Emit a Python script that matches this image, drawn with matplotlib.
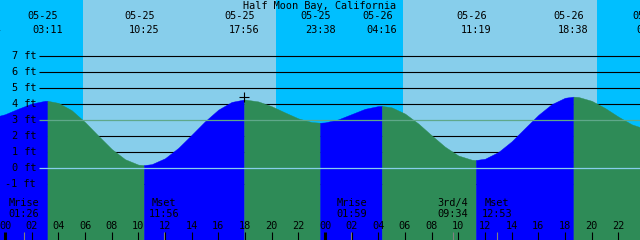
import numpy as np
import matplotlib
matplotlib.use('Agg')
import matplotlib.pyplot as plt

# 潮位 (ft), 05-25 00:00 からの毎時
hours = list(range(-1, 49))
level = [3.16, 3.38, 3.73, 4.05, 4.22, 4.09, 3.63, 2.89, 2.04, 1.21, 0.57, 0.23,
         0.26, 0.63, 1.28, 2.10, 2.94, 3.67, 4.15, 4.30, 4.18, 3.88, 3.49, 3.12,
         2.89, 2.87, 3.06, 3.39, 3.72, 3.89, 3.81, 3.42, 2.80, 2.06, 1.35, 0.80,
         0.54, 0.60, 1.02, 1.69, 2.52, 3.34, 4.01, 4.41, 4.46, 4.22, 3.77, 3.23,
         2.75, 2.47]

# 満潮・干潮
ext_date = ['05-24', '05-25', '05-25', '05-25', '05-25', '05-26', '05-26', '05-26', '05-27']
ext_time = ['22:34', '03:11', '10:25', '17:56', '23:38', '04:16', '11:19', '18:38', '00:32']
ext_level = [3.14, 4.22, 0.20, 4.30, 2.85, 3.90, 0.52, 4.48, 2.43]

# 日の出・日の入り
sunrise = ['05-25 05:53', '05-26 05:53']
sunset = ['05-25 20:20', '05-26 20:23']

# 月の出入り・月齢
moon_name = ['Mrise', 'Mset', 'Mrise', '3rd/4', 'Mset']
moon_when = ['05-25 01:26', '05-25 11:56', '05-26 01:59', '05-26 09:34', '05-26 12:53']

# 現在位置の十字
now_when = '05-25 17:56'
now_level = 4.44

title = 'Half Moon Bay, California'
ft_ticks = [-1, 0, 1, 2, 3, 4, 5, 6, 7]

# 色
day_c = '#87CEEB'
night_c = '#00BFFF'
flood_c = '#0000FF'
ebb_c = '#2E8B57'
datum_c = '#87CEEB'
msl_c = '#5FA88A'


def to_h(s):
    d, t = s.split()
    hh, mm = t.split(':')
    return (int(d[3:]) - 25) * 24 + int(hh) + int(mm) / 60


x0, x1 = -0.375, 47.625
y0, y1 = -4.48, 10.52
font = dict(family='DejaVu Sans Mono', size=7.4, color='black')

fig = plt.figure(figsize=(6.4, 2.4), dpi=100)
ax = fig.add_axes([0, 0, 1, 1])
ax.set_xlim(x0, x1)
ax.set_ylim(y0, y1)
ax.set_axis_off()

# 空 (昼・夜)
ax.axvspan(x0, x1, color=day_c, lw=0, zorder=0)
rises = [to_h(s) for s in sunrise]
sets = [to_h(s) for s in sunset]
for a, b in zip([x0] + sets, rises + [x1]):
    ax.axvspan(a, b, color=night_c, lw=0, zorder=0)

# 目盛り線
for f in ft_ticks:
    if f in (0, 3):
        continue
    ax.hlines(f, 2.55, x1, color='black', lw=0.8, zorder=1)

# 水面 (上げ潮: 青, 下げ潮: 緑)
ext_t = [to_h(d + ' ' + t) for d, t in zip(ext_date, ext_time)]
tt = np.array(hours + ext_t, dtype=float)
hh = np.array(level + ext_level, dtype=float)
order = np.argsort(tt)
tt, hh = tt[order], hh[order]
for i in range(len(ext_t) - 1):
    a, b = ext_t[i], ext_t[i + 1]
    m = (tt >= a) & (tt <= b)
    c = flood_c if ext_level[i + 1] > ext_level[i] else ebb_c
    ax.fill_between(tt[m], -6, hh[m], color=c, lw=0.3, zorder=2)

ax.hlines(0, 2.55, x1, color=datum_c, lw=0.9, zorder=3)
ax.hlines(3, 2.55, x1, color=msl_c, lw=0.9, zorder=3)

# 縦軸ラベル
for f in ft_ticks:
    ax.text(2.33, f, '%d ft' % f, ha='right', va='center', zorder=4, **font)

# タイトル
ax.text(23.625, 10.14, title, ha='center', va='center', zorder=4, **font)

# 満干潮ラベル
for t, d, s in zip(ext_t, ext_date, ext_time):
    ax.text(t - 0.35, 9.49, d, ha='center', va='center', zorder=4, **font)
    ax.text(t, 8.64, s, ha='center', va='center', zorder=4, **font)

ax.plot(to_h(now_when), now_level, marker='+', ms=6.5, mew=0.8,
        color='black', zorder=5)

# 月
for n, w in zip(moon_name, moon_when):
    t = to_h(w)
    ax.text(t, -2.14, n, ha='center', va='center', zorder=4, **font)
    ax.text(t, -2.83, w.split()[1], ha='center', va='center', zorder=4, **font)
    ax.vlines(t, -4.6, -3.98, color='#808080', lw=0.8, zorder=4)

# 時刻目盛り
for h in range(0, 49, 2):
    ax.text(h, -3.6, '%02d' % (h % 24), ha='center', va='center', zorder=4, **font)
    ax.vlines(h, -4.6, -3.98, color='black', lw=2.2 if h % 24 == 0 else 0.8, zorder=4)

fig.savefig('out.png', dpi=100)
